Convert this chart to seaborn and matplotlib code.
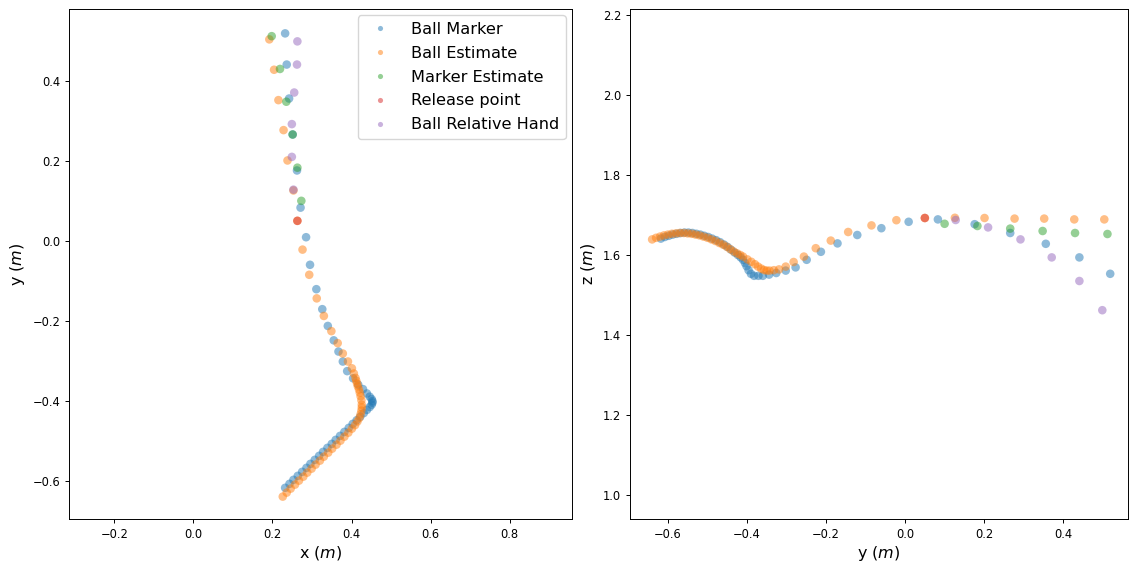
import matplotlib
matplotlib.use("Agg")
import matplotlib.pyplot as plt
import seaborn as sns
import pandas as pd

# Ball marker trajectory (x, y, z in metres)
ball_marker_x = [0.232, 0.243, 0.253, 0.264, 0.275, 0.286, 0.296, 0.307, 0.318, 0.328,
                 0.339, 0.350, 0.360, 0.371, 0.382, 0.393, 0.403, 0.413, 0.422, 0.431,
                 0.439, 0.446, 0.451, 0.453, 0.453, 0.451, 0.446, 0.439, 0.429, 0.417,
                 0.404, 0.389, 0.378, 0.367, 0.355, 0.340, 0.326, 0.311, 0.295, 0.285,
                 0.271, 0.262, 0.251, 0.242, 0.236, 0.232]
ball_marker_y = [-0.618, -0.608, -0.598, -0.588, -0.578, -0.568, -0.558, -0.548, -0.538, -0.528,
                 -0.518, -0.508, -0.498, -0.488, -0.478, -0.468, -0.458, -0.449, -0.440, -0.431,
                 -0.423, -0.416, -0.410, -0.405, -0.401, -0.396, -0.390, -0.382, -0.371, -0.360,
                 -0.344, -0.326, -0.302, -0.277, -0.249, -0.213, -0.171, -0.121, -0.060, 0.009,
                 0.083, 0.176, 0.266, 0.356, 0.441, 0.519]
ball_marker_z = [1.641, 1.645, 1.648, 1.651, 1.653, 1.655, 1.656, 1.656, 1.655, 1.653,
                 1.651, 1.648, 1.645, 1.641, 1.637, 1.632, 1.626, 1.620, 1.613, 1.606,
                 1.600, 1.594, 1.588, 1.580, 1.572, 1.562, 1.553, 1.548, 1.548, 1.548,
                 1.551, 1.555, 1.561, 1.569, 1.588, 1.608, 1.629, 1.650, 1.667, 1.683,
                 1.689, 1.677, 1.655, 1.628, 1.594, 1.553]

# Ball estimate trajectory
ball_est_x = [0.226, 0.236, 0.246, 0.257, 0.267, 0.278, 0.288, 0.299, 0.309, 0.320,
              0.330, 0.341, 0.351, 0.362, 0.372, 0.382, 0.392, 0.401, 0.409, 0.415,
              0.420, 0.423, 0.425, 0.426, 0.426, 0.425, 0.423, 0.421, 0.419, 0.416,
              0.414, 0.412, 0.410, 0.406, 0.401, 0.391, 0.378, 0.365, 0.349, 0.330,
              0.312, 0.293, 0.276, 0.263, 0.253, 0.238, 0.228, 0.215, 0.204, 0.192]
ball_est_y = [-0.640, -0.630, -0.620, -0.610, -0.600, -0.590, -0.580, -0.570, -0.560, -0.550,
              -0.540, -0.530, -0.520, -0.510, -0.500, -0.490, -0.480, -0.470, -0.461, -0.452,
              -0.443, -0.434, -0.425, -0.417, -0.410, -0.399, -0.389, -0.380, -0.372, -0.364,
              -0.357, -0.350, -0.343, -0.332, -0.319, -0.302, -0.282, -0.256, -0.226, -0.188,
              -0.144, -0.085, -0.022, 0.050, 0.126, 0.201, 0.277, 0.352, 0.428, 0.504]
ball_est_z = [1.639, 1.643, 1.646, 1.649, 1.651, 1.653, 1.654, 1.655, 1.655, 1.654,
              1.653, 1.651, 1.649, 1.646, 1.643, 1.639, 1.635, 1.630, 1.626, 1.621,
              1.615, 1.609, 1.604, 1.600, 1.596, 1.589, 1.583, 1.577, 1.571, 1.566,
              1.5625, 1.561, 1.561, 1.562, 1.564, 1.571, 1.5825, 1.596, 1.617, 1.636,
              1.6575, 1.674, 1.687, 1.6925, 1.693, 1.6925, 1.691, 1.691, 1.689, 1.689]

# Marker estimate after release
marker_est_x = [0.273, 0.263, 0.251, 0.235, 0.219, 0.198]
marker_est_y = [0.100, 0.183, 0.266, 0.348, 0.430, 0.512]
marker_est_z = [1.678, 1.6725, 1.666, 1.660, 1.655, 1.6525]

# Release point
release_x = [0.263]
release_y = [0.050]
release_z = [1.6925]

# Ball position relative to the hand
rel_hand_x = [0.253, 0.249, 0.249, 0.255, 0.262, 0.263]
rel_hand_y = [0.128, 0.210, 0.292, 0.371, 0.441, 0.499]
rel_hand_z = [1.6875, 1.669, 1.639, 1.594, 1.535, 1.462]

series = [
    ("Ball Marker", ball_marker_x, ball_marker_y, ball_marker_z),
    ("Ball Estimate", ball_est_x, ball_est_y, ball_est_z),
    ("Marker Estimate", marker_est_x, marker_est_y, marker_est_z),
    ("Release point", release_x, release_y, release_z),
    ("Ball Relative Hand", rel_hand_x, rel_hand_y, rel_hand_z),
]
labels = [s[0] for s in series]

frames = [pd.DataFrame({"x": sx, "y": sy, "z": sz, "label": name})
          for name, sx, sy, sz in series]
df = pd.concat(frames, ignore_index=True)

palette = dict(zip(labels, sns.color_palette("tab10", 5)))

fig = plt.figure(figsize=(11.29, 5.63), dpi=100)
W, H = 1129, 563
ax1 = fig.add_axes([69 / W, (H - 519) / H, 503 / W, 510 / H])
ax2 = fig.add_axes([630 / W, (H - 519) / H, 498 / W, 510 / H])

common = dict(hue="label", hue_order=labels, palette=palette,
              alpha=0.5, linewidth=0, s=38)

sns.scatterplot(data=df, x="x", y="y", ax=ax1, legend=True, **common)
sns.scatterplot(data=df, x="y", y="z", ax=ax2, legend=False, **common)

ax1.set_xlim(-0.315, 0.958)
ax1.set_ylim(-0.696, 0.58)
ax2.set_xlim(-0.696, 0.564)
ax2.set_ylim(0.94, 2.215)

label_fs = 11.5
ax1.set_xlabel("x ($m$)", fontsize=label_fs, labelpad=2)
ax1.set_ylabel("y ($m$)", fontsize=label_fs)
ax2.set_xlabel("y ($m$)", fontsize=label_fs, labelpad=2)
ax2.set_ylabel("z ($m$)", fontsize=label_fs)

for ax in (ax1, ax2):
    ax.tick_params(labelsize=8.3, length=2.8, width=0.7)
    for sp in ax.spines.values():
        sp.set_linewidth(0.7)

handles, labs = ax1.get_legend_handles_labels()
ax1.legend(handles, labs, loc="upper right", fontsize=11.6, markerscale=0.6,
           labelspacing=0.55, handletextpad=0.9, borderaxespad=0.4, title=None)

fig.savefig("out.png", dpi=100)
